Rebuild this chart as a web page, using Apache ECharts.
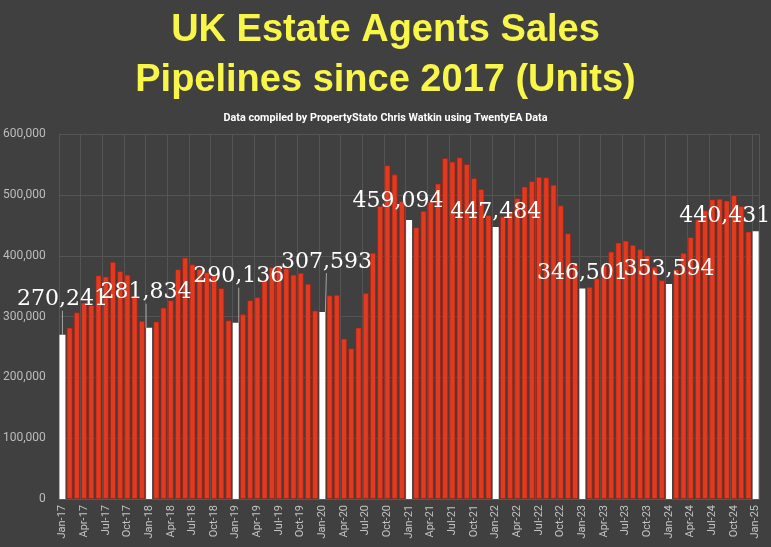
<!DOCTYPE html>
<html>
<head>
<meta charset="utf-8">
<script src="https://cdn.jsdelivr.net/npm/echarts@6/dist/echarts.min.js"></script>
<style>
  html, body { margin: 0; padding: 0; background: #404040; }
  #chart { width: 771px; height: 547px; }
</style>
</head>
<body>
<div id="chart"></div>
<script>
// ---- Data ----
const MONTHS = ['Jan','Feb','Mar','Apr','May','Jun','Jul','Aug','Sep','Oct','Nov','Dec'];
const YEARS = ['17','18','19','20','21','22','23','24','25'];

const v2017 = [270241, 282000, 307000, 323000, 319000, 368000, 366000, 390000, 375000, 369000, 335000, 293000];
const v2018 = [281834, 292000, 315000, 327000, 378000, 397000, 386000, 378000, 373000, 368000, 347000, 294000];
const v2019 = [290136, 304000, 327000, 332000, 360000, 381000, 385000, 380000, 369000, 372000, 354000, 310000];
const v2020 = [307593, 335000, 336000, 264000, 248000, 282000, 339000, 405000, 482000, 549000, 534000, 490000];
const v2021 = [459094, 447000, 474000, 489000, 519000, 561000, 555000, 562000, 551000, 528000, 510000, 467000];
const v2022 = [447484, 465000, 473000, 495000, 514000, 523000, 530000, 529000, 517000, 483000, 437000, 388000];
const v2023 = [346501, 349000, 363000, 385000, 407000, 422000, 425000, 418000, 411000, 401000, 382000, 360000];
const v2024 = [353594, 378000, 405000, 431000, 460000, 475000, 493000, 494000, 491000, 500000, 482000, 440000];
const v2025 = [440431];

const Y_TICKS = [0, 100000, 200000, 300000, 400000, 500000, 600000];

// ---- Build categories / values ----
const yearlyValues = [v2017, v2018, v2019, v2020, v2021, v2022, v2023, v2024, v2025];
const categories = [];
const values = [];
yearlyValues.forEach((arr, yi) => {
  arr.forEach((v, mi) => {
    categories.push(MONTHS[mi] + '-' + YEARS[yi]);
    values.push(v);
  });
});

// label placement tweaks (style only) for the January labels
const LABEL_SHIFT = {
  0: [0, -20, true], 12: [-3, -20, true], 24: [3, -31, true], 36: [4, -35, true],
  48: [-11, -4, false], 60: [0, 0, false], 72: [0, 0, false], 84: [0, 0, false], 96: [-31, 0, false]
};

const fmt = v => String(v).replace(/\B(?=(\d{3})+(?!\d))/g, ',');

const seriesData = values.map((v, i) => {
  const isJan = categories[i].startsWith('Jan');
  if (!isJan) return v;
  const sh = LABEL_SHIFT[i] || [0, 0, false];
  return {
    value: v,
    itemStyle: { color: '#ffffff', borderWidth: 0 },
    label: { show: true },
    labelLine: { show: sh[2] }
  };
});

const chart = echarts.init(document.getElementById('chart'), null, { renderer: 'canvas' });
chart.setOption({
  backgroundColor: '#404040',
  animation: false,
  title: [
    {
      text: 'UK Estate Agents Sales\nPipelines since 2017 (Units)',
      left: 'center',
      top: 1,
      textStyle: {
        color: '#f9f64a',
        fontFamily: 'Liberation Sans',
        fontWeight: 'bold',
        fontSize: 38,
        lineHeight: 50
      }
    },
    {
      text: 'Data compiled by PropertyStato Chris Watkin using TwentyEA Data',
      left: 'center',
      top: 108,
      textStyle: {
        color: '#ffffff',
        fontFamily: 'Roboto',
        fontWeight: 'bold',
        fontSize: 10.8
      }
    }
  ],
  grid: { left: 58.4, right: 11.7, top: 134.3, bottom: 48, containLabel: false },
  xAxis: {
    type: 'category',
    data: categories,
    axisTick: { show: false },
    axisLine: { show: true, lineStyle: { color: '#5a5a5a' } },
    axisLabel: {
      interval: 2,
      rotate: 90,
      color: '#c4c4c4',
      fontFamily: 'Roboto',
      fontSize: 11,
      margin: 6
    },
    splitLine: { show: true, interval: 2, lineStyle: { color: '#555555', width: 1 } }
  },
  yAxis: {
    type: 'value',
    min: Y_TICKS[0],
    max: Y_TICKS[Y_TICKS.length - 1],
    interval: Y_TICKS[1] - Y_TICKS[0],
    axisLine: { show: false },
    axisTick: { show: false },
    axisLabel: {
      color: '#bcbcbc',
      fontFamily: 'Roboto',
      fontSize: 12,
      margin: 13,
      formatter: v => fmt(v)
    },
    splitLine: { lineStyle: { color: '#555555', width: 1 } }
  },
  series: [{
    type: 'bar',
    data: seriesData,
    barCategoryGap: '17%',
    itemStyle: {
      color: '#e3391f',
      borderColor: 'rgba(150,35,20,0.8)',
      borderWidth: 0.8
    },
    label: {
      show: false,
      position: 'top',
      distance: 4,
      color: '#ffffff',
      fontFamily: 'DejaVu Serif',
      fontSize: 22,
      formatter: p => fmt(p.value)
    },
    labelLine: {
      show: false,
      lineStyle: { color: 'rgba(190,190,190,0.8)', width: 1 }
    },
    labelLayout: function (params) {
      const sh = LABEL_SHIFT[params.dataIndex];
      if (!sh) return {};
      return { dx: sh[0], dy: sh[1] };
    }
  }]
});
</script>
</body>
</html>
